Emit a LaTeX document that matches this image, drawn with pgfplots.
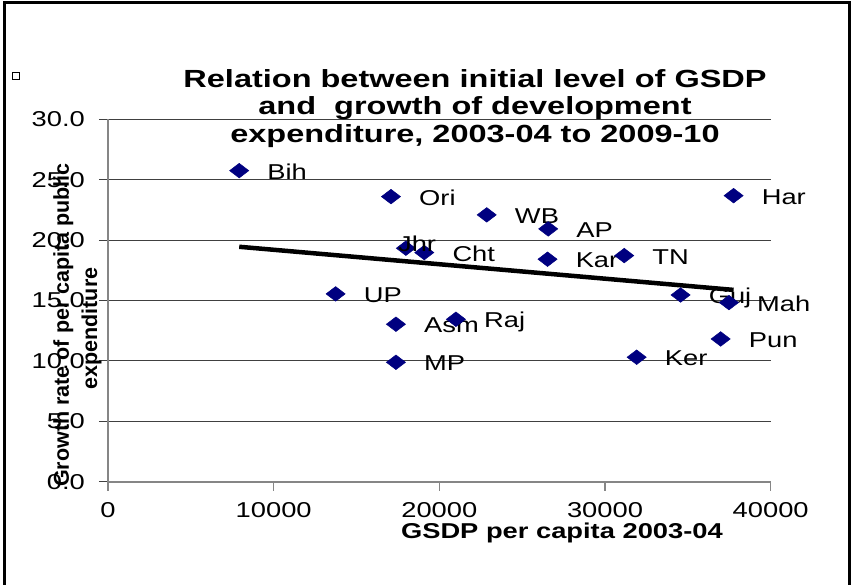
\documentclass[border=0pt]{standalone}
\usepackage{fontspec}
\setmainfont{Liberation Sans}[FakeStretch=1.27]
\newfontfamily\upfont{Liberation Sans}
\newfontfamily\titlefont{Liberation Sans}[FakeStretch=1.31]
\usepackage{pgfplots}
\usepackage{pgfplotstable}
\pgfplotsset{compat=1.18}

\definecolor{navy}{RGB}{0,0,128}
\definecolor{axisgray}{RGB}{134,134,134}

\newcommand\lab{\fontsize{21.5}{25}\selectfont}
\newcommand\ttl{\titlefont\fontsize{24.8}{29}\selectfont\bfseries}

% state, GSDP per capita 2003-04, growth of per capita development expenditure
\pgfplotstableread{
x      y      label
7920   25.75  Bih
17080  23.60  Ori
22860  22.09  WB
26570  20.93  AP
19090  18.97  Cht
26530  18.42  Kar
31160  18.72  TN
37760  23.68  Har
13740  15.55  UP
34560  15.46  Guj
37480  14.83  Mah
17380  13.04  Asm
21000  13.45  Raj
36980  11.82  Pun
31910  10.31  Ker
17380  9.89   MP
}\statedata

% Jharkhand, its label sits over the marker
\pgfplotstableread{
x      y      label
17980  19.33  Jhr
}\jhrdata

% linear trend, end points
\pgfplotstableread{
x      y
7920   19.45
37760  15.88
}\trenddata

\tikzset{
  state label/.style={font=\lab, black, anchor=west, inner sep=0pt,
    text height=17pt, text depth=0pt},
}
\pgfplotsset{
  state marks/.style={only marks, mark=diamond*, mark size=7.3pt,
    mark options={xscale=1.75, fill=navy, draw=navy, line width=0.5pt},
    nodes near coords, point meta=explicit symbolic},
}

\begin{document}
\begin{tikzpicture}
\useasboundingbox (0pt,0pt) rectangle (855pt,585pt);
\fill[white] (0pt,0pt) rectangle (855pt,585pt);
% outer frame
\draw[line width=3pt] (4.5pt,-10pt) -- (4.5pt,582.3pt) -- (849pt,582.3pt) -- (849pt,-10pt);
\draw[line width=0.8pt] (12.5pt,505.5pt) rectangle (19.5pt,512.5pt);

\begin{axis}[
  at={(108pt,103.2pt)}, anchor=south west,
  scale only axis, width=662.7pt, height=362.5pt,
  xmin=0, xmax=40000, ymin=0, ymax=30,
  clip=false,
  axis lines*=left,
  x axis line style={axisgray, line width=1.5pt},
  y axis line style={axisgray, line width=2pt},
  xtick={0,10000,20000,30000,40000},
  ytick={0,5,10,15,20,25,30},
  tick align=outside, major tick length=9pt,
  xtick style={axisgray, line width=1.2pt},
  ytick style={black!75, line width=1pt},
  ymajorgrids, grid style={black!75, line width=1pt},
  scaled x ticks=false,
  /pgf/number format/assume math mode=true,
  xticklabel style={/pgf/number format/1000 sep={}, font=\lab, inner sep=0pt, anchor=north, yshift=-11pt},
  yticklabel style={/pgf/number format/.cd, fixed, fixed zerofill, precision=1, /tikz/.cd, font=\lab, inner sep=0pt, anchor=east, xshift=-14pt},
  xlabel={GSDP per capita 2003-04},
  xlabel style={font=\lab\bfseries, at={(axis description cs:0.685,0)}, anchor=base, yshift=-57pt, inner sep=0pt},
]
\addplot[state marks,
  every node near coord/.append style={state label, xshift=28pt},
] table[x=x, y=y, meta=label] {\statedata};
\addplot[state marks,
  every node near coord/.append style={state label, xshift=-8pt, yshift=5pt},
] table[x=x, y=y, meta=label] {\jhrdata};
\addplot[black, line width=4.5pt, no marks] table[x=x, y=y] {\trenddata};
\end{axis}

% chart title
\node[font=\ttl, anchor=base, inner sep=0pt] at (475pt,497pt) {Relation between initial level of GSDP};
\node[font=\ttl, anchor=base, inner sep=0pt] at (475pt,470pt) {and\ \ growth of development};
\node[font=\ttl, anchor=base, inner sep=0pt] at (475pt,442pt) {expenditure, 2003-04 to 2009-10};

% y axis title, two lines
\node[font=\upfont\bfseries\fontsize{21.5}{25}\selectfont, rotate=90, anchor=base, inner sep=0pt] at (68.8pt,260pt) {Growth rate of per capita public};
\node[font=\upfont\bfseries\fontsize{21.5}{25}\selectfont, rotate=90, anchor=base, inner sep=0pt] at (97.2pt,256.5pt) {expenditure};
\end{tikzpicture}
\end{document}
